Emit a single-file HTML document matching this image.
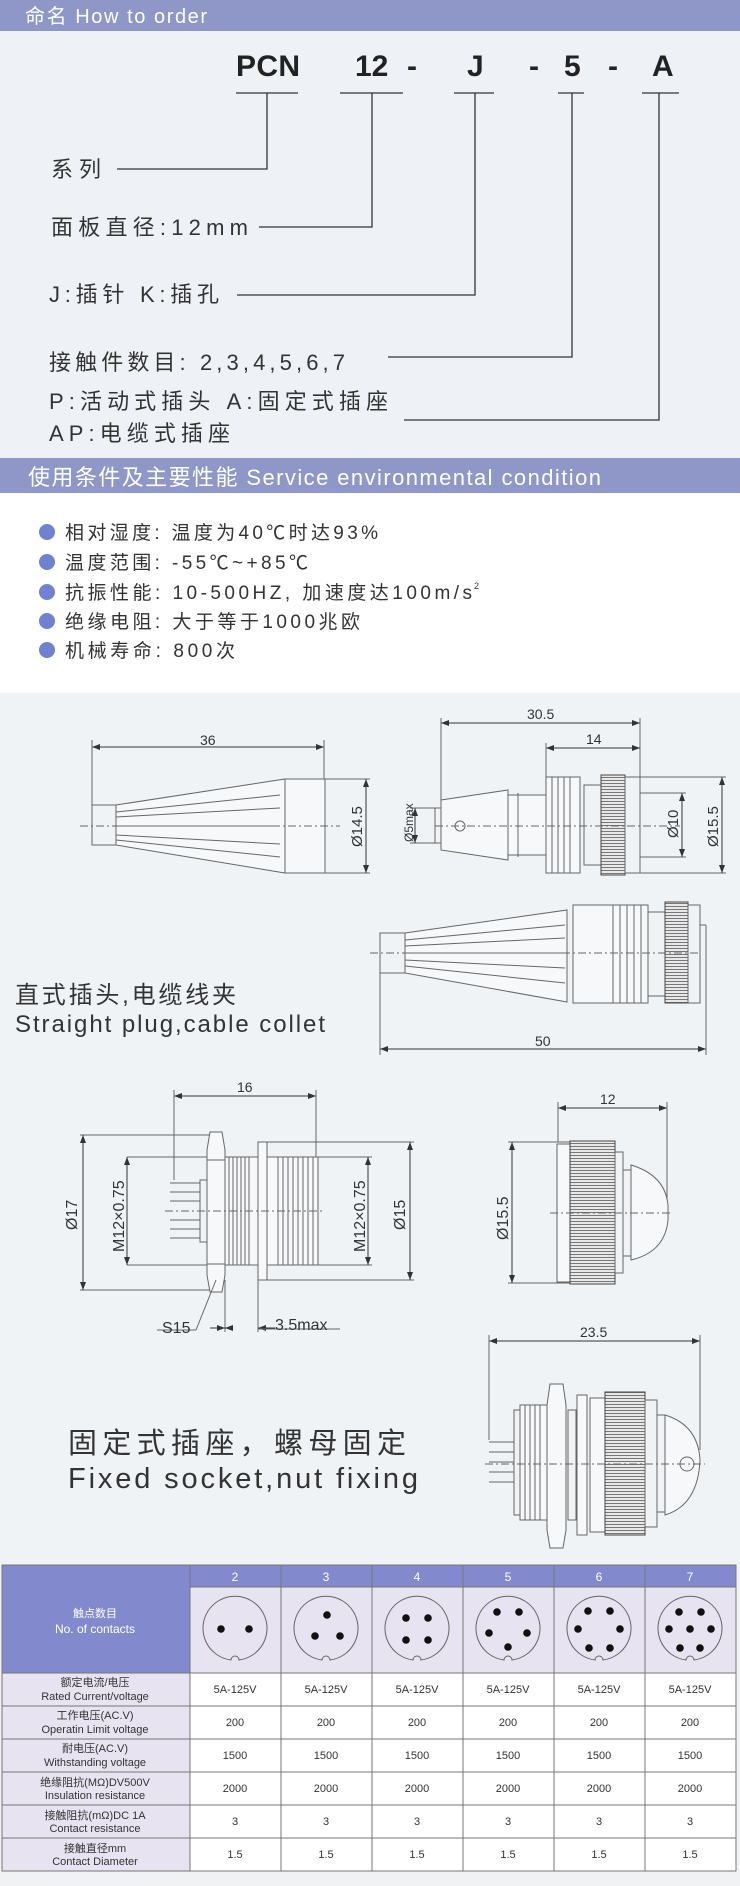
<!DOCTYPE html>
<html><head><meta charset="utf-8"><style>
html,body{margin:0;padding:0;}
body{width:740px;height:1886px;position:relative;overflow:hidden;background:#f0f2f4;font-family:"Liberation Sans","Noto Sans CJK SC",sans-serif;}
svg{position:absolute;left:0;top:0;}
</style></head><body>
<svg width="740" height="1886" viewBox="0 0 740 1886" xmlns="http://www.w3.org/2000/svg" font-family="Liberation Sans, Noto Sans CJK SC, sans-serif">
<defs>
<marker id="a" markerWidth="8" markerHeight="6" refX="8" refY="3" orient="auto-start-reverse" markerUnits="userSpaceOnUse"><path d="M0,0 L8,3 L0,6 z" fill="#333"/></marker>
<pattern id="kn" width="4" height="3" patternUnits="userSpaceOnUse"><rect width="4" height="3" fill="#e8e8e8"/><line x1="0" y1="0.5" x2="4" y2="0.5" stroke="#777" stroke-width="1"/></pattern>
</defs>
<!-- backgrounds -->
<rect x="0" y="0" width="740" height="460" fill="#eef2f6"/>
<rect x="0" y="0" width="740" height="31" fill="#8e97c8"/>
<text x="25" y="23" font-size="20" fill="#fff" textLength="182">命名 How to order</text>
<rect x="0" y="458" width="740" height="35" fill="#8e97c8"/>
<text x="28" y="485" font-size="22" fill="#fff" textLength="573">使用条件及主要性能 Service environmental condition</text>
<rect x="0" y="493" width="740" height="200" fill="#ffffff"/>
<rect x="0" y="693" width="740" height="872" fill="#eff3f6"/>

<!-- order code -->
<g font-size="30" font-weight="bold" fill="#222">
<text x="236" y="76" textLength="64">PCN</text>
<text x="355" y="76">12</text>
<text x="407" y="76">-</text>
<text x="467" y="76">J</text>
<text x="529" y="76">-</text>
<text x="564" y="76">5</text>
<text x="608" y="76">-</text>
<text x="652" y="76">A</text>
</g>
<g stroke="#333" stroke-width="1.3" fill="none">
<line x1="236" y1="93" x2="298" y2="93"/><line x1="340" y1="93" x2="403" y2="93"/>
<line x1="454" y1="93" x2="494" y2="93"/><line x1="558" y1="93" x2="584" y2="93"/><line x1="642" y1="93" x2="679" y2="93"/>
<polyline points="267,93 267,169 117,169"/>
<polyline points="372,93 372,227 259,227"/>
<polyline points="475,93 475,295 237,295"/>
<polyline points="572,93 572,357 388,357"/>
<polyline points="659,93 659,420 404,420"/>
</g>
<g font-size="22" fill="#333">
<text x="51" y="177" textLength="50">系列</text>
<text x="51" y="235" textLength="197">面板直径:12mm</text>
<text x="49" y="302" textLength="170">J:插针 K:插孔</text>
<text x="49" y="370" textLength="296">接触件数目: 2,3,4,5,6,7</text>
<text x="49" y="409" textLength="339">P:活动式插头 A:固定式插座</text>
<text x="49" y="441" textLength="181">AP:电缆式插座</text>
</g>

<!-- bullets -->
<g fill="#6f82d2"><circle cx="47" cy="532" r="8"/><circle cx="47" cy="562" r="8"/><circle cx="47" cy="592" r="8"/><circle cx="47" cy="621" r="8"/><circle cx="47" cy="650" r="8"/></g>
<g font-size="19" fill="#333">
<text x="65" y="539" textLength="313">相对湿度: 温度为40℃时达93%</text>
<text x="65" y="569" textLength="243">温度范围: -55℃~+85℃</text>
<text x="65" y="599" textLength="407">抗振性能: 10-500HZ, 加速度达100m/s</text>
<text x="474" y="589" font-size="9">2</text>
<text x="65" y="628" textLength="295">绝缘电阻: 大于等于1000兆欧</text>
<text x="65" y="657" textLength="170">机械寿命: 800次</text>
</g>

<!-- drawings -->
<g stroke="#666" stroke-width="1" fill="none">
<!-- drawing 1 -->
<line x1="92" y1="747" x2="324" y2="747" stroke="#333" marker-start="url(#a)" marker-end="url(#a)"/>
<line x1="92" y1="740" x2="92" y2="805"/><line x1="324" y1="740" x2="324" y2="779"/>
<rect x="92" y="805" width="24" height="40"/>
<polygon points="116,805 285,779 285,873 116,845" fill="#f7f8fa"/>
<line x1="116" y1="812" x2="280" y2="795"/><line x1="116" y1="817" x2="280" y2="808"/><line x1="116" y1="826" x2="280" y2="826"/><line x1="116" y1="835" x2="280" y2="844"/><line x1="116" y1="840" x2="280" y2="857"/>
<rect x="285" y="779" width="40" height="94" fill="#f7f8fa"/>
<line x1="325" y1="779" x2="370" y2="779"/><line x1="325" y1="873" x2="370" y2="873"/>
<line x1="366" y1="779" x2="366" y2="873" stroke="#333" marker-start="url(#a)" marker-end="url(#a)"/>
<line x1="80" y1="826" x2="340" y2="826" stroke-dasharray="8,3,2,3"/>
<!-- drawing 2 -->
<line x1="441" y1="723" x2="640" y2="723" stroke="#333" marker-start="url(#a)" marker-end="url(#a)"/>
<line x1="441" y1="718" x2="441" y2="800"/><line x1="640" y1="718" x2="640" y2="777"/>
<line x1="546" y1="748" x2="640" y2="748" stroke="#333" marker-start="url(#a)" marker-end="url(#a)"/>
<line x1="546" y1="743" x2="546" y2="777"/>
<rect x="435" y="808" width="6" height="35"/>
<line x1="410" y1="808" x2="435" y2="808"/><line x1="410" y1="843" x2="435" y2="843"/>
<line x1="415" y1="808" x2="415" y2="843" stroke="#333" marker-start="url(#a)" marker-end="url(#a)"/>
<polygon points="441,800 508,790 508,860 441,850" fill="#f7f8fa"/>
<circle cx="460" cy="826" r="5"/>
<rect x="508" y="795" width="38" height="60" fill="#f7f8fa"/>
<line x1="518" y1="793" x2="518" y2="857"/>
<rect x="546" y="777" width="34" height="96" fill="#f7f8fa"/>
<line x1="552" y1="777" x2="552" y2="873"/><line x1="558" y1="777" x2="558" y2="873"/><line x1="564" y1="777" x2="564" y2="873"/><line x1="570" y1="777" x2="570" y2="873"/>
<rect x="584" y="785" width="17" height="80"/>
<rect x="601" y="775" width="24" height="100" fill="url(#kn)" stroke="#444"/>
<rect x="625" y="777" width="15" height="96"/>
<line x1="640" y1="777" x2="726" y2="777"/><line x1="640" y1="873" x2="726" y2="873"/>
<line x1="640" y1="793" x2="686" y2="793"/><line x1="640" y1="857" x2="686" y2="857"/>
<line x1="682" y1="793" x2="682" y2="857" stroke="#333" marker-start="url(#a)" marker-end="url(#a)"/>
<line x1="722" y1="777" x2="722" y2="873" stroke="#333" marker-start="url(#a)" marker-end="url(#a)"/>
<line x1="435" y1="826" x2="680" y2="826" stroke-dasharray="8,3,2,3"/>
<!-- drawing 3 -->
<rect x="380" y="933" width="25" height="40"/>
<polygon points="405,933 567,910 567,1002 405,973" fill="#f7f8fa"/>
<line x1="405" y1="940" x2="565" y2="925"/><line x1="405" y1="946" x2="565" y2="938"/><line x1="405" y1="953" x2="565" y2="953"/><line x1="405" y1="960" x2="565" y2="968"/><line x1="405" y1="966" x2="565" y2="983"/>
<rect x="573" y="905" width="40" height="98" fill="#f7f8fa"/>
<rect x="613" y="905" width="35" height="98" fill="#f7f8fa"/>
<line x1="620" y1="905" x2="620" y2="1003"/><line x1="627" y1="905" x2="627" y2="1003"/><line x1="634" y1="905" x2="634" y2="1003"/><line x1="641" y1="905" x2="641" y2="1003"/>
<rect x="648" y="912" width="17" height="84"/>
<rect x="665" y="902" width="23" height="101" fill="url(#kn)" stroke="#444"/>
<rect x="688" y="905" width="12" height="98"/>
<line x1="700" y1="925" x2="706" y2="925"/><line x1="706" y1="925" x2="706" y2="1055"/>
<line x1="380" y1="973" x2="380" y2="1055"/>
<line x1="380" y1="1049" x2="706" y2="1049" stroke="#333" marker-start="url(#a)" marker-end="url(#a)"/>
<line x1="370" y1="953" x2="700" y2="953" stroke-dasharray="8,3,2,3"/>
<!-- drawing 4 -->
<line x1="174" y1="1096" x2="316" y2="1096" stroke="#333" marker-start="url(#a)" marker-end="url(#a)"/>
<line x1="174" y1="1090" x2="174" y2="1180"/><line x1="316" y1="1090" x2="316" y2="1157"/>
<line x1="80" y1="1135" x2="210" y2="1135"/><line x1="80" y1="1290" x2="210" y2="1290"/>
<line x1="83" y1="1135" x2="83" y2="1290" stroke="#333" marker-start="url(#a)" marker-end="url(#a)"/>
<line x1="127" y1="1157" x2="225" y2="1157"/><line x1="127" y1="1265" x2="225" y2="1265"/>
<line x1="127" y1="1157" x2="127" y2="1265" stroke="#333" marker-start="url(#a)" marker-end="url(#a)"/>
<path d="M170,1183 h30 M170,1192 h30 M170,1201 h30 M170,1220 h30 M170,1229 h30 M170,1238 h30"/>
<rect x="200" y="1180" width="8" height="62"/>
<path d="M210,1132 L222,1132 L225,1150 L225,1275 L222,1292 L210,1292 L207,1275 L207,1150 Z" fill="#f7f8fa"/>
<line x1="207" y1="1160" x2="225" y2="1160"/><line x1="207" y1="1264" x2="225" y2="1264"/>
<rect x="225" y="1157" width="33" height="108" fill="#f7f8fa"/>
<path d="M229,1157v108M233,1157v108M237,1157v108M241,1157v108M245,1157v108M249,1157v108"/>
<rect x="258" y="1142" width="9" height="138" fill="#f7f8fa"/>
<rect x="267" y="1157" width="51" height="108" fill="#f7f8fa"/>
<path d="M278,1157v108M283,1157v108M288,1157v108M293,1157v108M298,1157v108M303,1157v108M308,1157v108M313,1157v108"/>
<line x1="318" y1="1157" x2="372" y2="1157"/><line x1="318" y1="1265" x2="372" y2="1265"/>
<line x1="368" y1="1157" x2="368" y2="1265" stroke="#333" marker-start="url(#a)" marker-end="url(#a)"/>
<line x1="267" y1="1142" x2="414" y2="1142"/><line x1="267" y1="1280" x2="414" y2="1280"/>
<line x1="410" y1="1142" x2="410" y2="1280" stroke="#333" marker-start="url(#a)" marker-end="url(#a)"/>
<line x1="165" y1="1211" x2="325" y2="1211" stroke-dasharray="8,3,2,3"/>
<line x1="225" y1="1280" x2="225" y2="1332"/><line x1="258" y1="1280" x2="258" y2="1332"/>
<line x1="228" y1="1328" x2="225" y2="1328" stroke="#333" marker-end="url(#a)"/><line x1="210" y1="1328" x2="225" y2="1328" stroke="#333" marker-end="url(#a)"/>
<line x1="275" y1="1328" x2="258" y2="1328" stroke="#333" marker-end="url(#a)"/>
<line x1="258" y1="1329" x2="340" y2="1329"/>
<line x1="157" y1="1330" x2="196" y2="1330"/><line x1="196" y1="1330" x2="216" y2="1280"/>
<!-- drawing 5 -->
<line x1="558" y1="1108" x2="667" y2="1108" stroke="#333" marker-start="url(#a)" marker-end="url(#a)"/>
<line x1="558" y1="1102" x2="558" y2="1142"/><line x1="667" y1="1102" x2="667" y2="1200"/>
<line x1="508" y1="1142" x2="570" y2="1142"/><line x1="508" y1="1283" x2="570" y2="1283"/>
<line x1="512" y1="1142" x2="512" y2="1283" stroke="#333" marker-start="url(#a)" marker-end="url(#a)"/>
<rect x="557" y="1144" width="13" height="138" fill="#f7f8fa"/>
<rect x="570" y="1141" width="45" height="143" fill="url(#kn)" stroke="#444"/>
<rect x="615" y="1152" width="8" height="121"/>
<rect x="623" y="1170" width="8" height="86"/>
<path d="M631,1165 Q665,1175 668,1205 L668,1220 Q665,1252 631,1260 Z" fill="#f7f8fa"/>
<line x1="550" y1="1213" x2="672" y2="1213" stroke-dasharray="8,3,2,3"/>
<!-- drawing 6 -->
<line x1="489" y1="1341" x2="700" y2="1341" stroke="#333" marker-start="url(#a)" marker-end="url(#a)"/>
<line x1="489" y1="1335" x2="489" y2="1440"/><line x1="700" y1="1335" x2="700" y2="1450"/>
<path d="M489,1442h25M489,1452h25M489,1462h25M489,1472h25M489,1482h25"/>
<rect x="514" y="1410" width="6" height="105"/>
<rect x="520" y="1405" width="28" height="115" fill="#f7f8fa"/>
<path d="M525,1405v115M530,1405v115M535,1405v115M540,1405v115"/>
<path d="M550,1384 L563,1384 L566,1405 L566,1530 L563,1548 L550,1548 L547,1530 L547,1405 Z" fill="#f7f8fa"/>
<rect x="568" y="1410" width="8" height="110"/>
<rect x="577" y="1395" width="10" height="140" fill="#f7f8fa"/>
<rect x="590" y="1398" width="15" height="134" fill="#f7f8fa"/>
<rect x="605" y="1392" width="40" height="143" fill="url(#kn)" stroke="#444"/>
<rect x="645" y="1400" width="12" height="127"/>
<rect x="657" y="1415" width="8" height="97"/>
<path d="M665,1415 Q698,1425 700,1460 Q698,1505 665,1515 Z" fill="#f7f8fa"/>
<circle cx="687" cy="1464" r="7"/>
<line x1="485" y1="1464" x2="705" y2="1464" stroke-dasharray="8,3,2,3"/>
</g>
<g font-size="14" fill="#333">
<text x="200" y="745">36</text>
<text x="527" y="719">30.5</text>
<text x="586" y="744">14</text>
<text x="535" y="1046">50</text>
<text x="237" y="1092">16</text>
<text x="600" y="1104">12</text>
<text x="580" y="1337">23.5</text>
<text x="162" y="1333" font-size="16">S15</text>
<text x="275" y="1330" font-size="16">3.5max</text>
<text transform="translate(362,847) rotate(-90)" font-size="15">Ø14.5</text>
<text transform="translate(413,842) rotate(-90)" font-size="12">Ø5max</text>
<text transform="translate(678,838) rotate(-90)" font-size="15">Ø10</text>
<text transform="translate(718,847) rotate(-90)" font-size="15">Ø15.5</text>
<text transform="translate(77,1230) rotate(-90)" font-size="16">Ø17</text>
<text transform="translate(124,1252) rotate(-90)" font-size="16">M12×0.75</text>
<text transform="translate(365,1252) rotate(-90)" font-size="16">M12×0.75</text>
<text transform="translate(405,1230) rotate(-90)" font-size="16">Ø15</text>
<text transform="translate(508,1240) rotate(-90)" font-size="16">Ø15.5</text>
</g>
<g fill="#333">
<text x="15" y="1003" font-size="24" textLength="221">直式插头,电缆线夹</text>
<text x="15" y="1032" font-size="24" textLength="310">Straight plug,cable collet</text>
<text x="68" y="1453" font-size="29" textLength="338">固定式插座，螺母固定</text>
<text x="68" y="1488" font-size="29" textLength="350">Fixed socket,nut fixing</text>
</g>

<!-- table -->
<rect x="2" y="1565" width="734" height="306" fill="#ffffff"/>
<rect x="2" y="1565" width="188" height="108" fill="#8289cc"/>
<rect x="190" y="1565" width="546" height="22" fill="#8289cc"/>
<rect x="190" y="1587" width="546" height="86" fill="#e7e3f1"/>
<rect x="2" y="1673" width="188" height="198" fill="#e7e3f1"/>
<g stroke="#777" stroke-width="1" fill="none">
<rect x="2" y="1565" width="734" height="306"/>
<line x1="190" y1="1565" x2="190" y2="1871"/><line x1="281" y1="1565" x2="281" y2="1871"/><line x1="372" y1="1565" x2="372" y2="1871"/><line x1="463" y1="1565" x2="463" y2="1871"/><line x1="554" y1="1565" x2="554" y2="1871"/><line x1="645" y1="1565" x2="645" y2="1871"/>
<line x1="190" y1="1587" x2="736" y2="1587"/>
<line x1="2" y1="1673" x2="736" y2="1673"/><line x1="2" y1="1706" x2="736" y2="1706"/><line x1="2" y1="1739" x2="736" y2="1739"/><line x1="2" y1="1772" x2="736" y2="1772"/><line x1="2" y1="1805" x2="736" y2="1805"/><line x1="2" y1="1838" x2="736" y2="1838"/>
</g>
<g font-size="12" fill="#fff" text-anchor="middle">
<text x="235" y="1581">2</text><text x="326" y="1581">3</text><text x="417" y="1581">4</text><text x="508" y="1581">5</text><text x="599" y="1581">6</text><text x="690" y="1581">7</text>
<text x="95" y="1617" font-size="11">触点数目</text>
<text x="95" y="1633">No. of contacts</text>
</g>
<g stroke="#666" fill="none" stroke-width="1">
<path id="c1" d="M231,1660 A32,32 0 1 1 239,1660 A4,4 0 0 0 231,1660 Z" transform="translate(0,0)"/>
<path d="M231,1660 A32,32 0 1 1 239,1660 A4,4 0 0 0 231,1660 Z" transform="translate(91,0)"/>
<path d="M231,1660 A32,32 0 1 1 239,1660 A4,4 0 0 0 231,1660 Z" transform="translate(182,0)"/>
<path d="M231,1660 A32,32 0 1 1 239,1660 A4,4 0 0 0 231,1660 Z" transform="translate(273,0)"/>
<path d="M231,1660 A32,32 0 1 1 239,1660 A4,4 0 0 0 231,1660 Z" transform="translate(364,0)"/>
<path d="M231,1660 A32,32 0 1 1 239,1660 A4,4 0 0 0 231,1660 Z" transform="translate(455,0)"/>
</g>
<g fill="#111">
<circle cx="221" cy="1629" r="3.8"/><circle cx="249" cy="1629" r="3.8"/>
<circle cx="327" cy="1615" r="3.8"/><circle cx="315" cy="1636" r="3.8"/><circle cx="340" cy="1636" r="3.8"/>
<circle cx="406" cy="1618" r="3.8"/><circle cx="428" cy="1618" r="3.8"/><circle cx="406" cy="1640" r="3.8"/><circle cx="428" cy="1640" r="3.8"/>
<circle cx="497" cy="1612" r="3.8"/><circle cx="519" cy="1612" r="3.8"/><circle cx="489" cy="1633" r="3.8"/><circle cx="527" cy="1633" r="3.8"/><circle cx="508" cy="1647" r="3.8"/>
<circle cx="588" cy="1611" r="3.8"/><circle cx="610" cy="1611" r="3.8"/><circle cx="578" cy="1629" r="3.8"/><circle cx="620" cy="1629" r="3.8"/><circle cx="589" cy="1648" r="3.8"/><circle cx="610" cy="1648" r="3.8"/>
<circle cx="679" cy="1612" r="3.8"/><circle cx="701" cy="1612" r="3.8"/><circle cx="669" cy="1629" r="3.8"/><circle cx="690" cy="1629" r="3.8"/><circle cx="711" cy="1629" r="3.8"/><circle cx="680" cy="1648" r="3.8"/><circle cx="700" cy="1648" r="3.8"/>
</g>
<g font-size="11" fill="#333" text-anchor="middle">
<text x="95" y="1686">额定电流/电压</text><text x="95" y="1700">Rated Current/voltage</text>
<text x="95" y="1719">工作电压(AC.V)</text><text x="95" y="1733">Operatin Limit voltage</text>
<text x="95" y="1752">耐电压(AC.V)</text><text x="95" y="1766">Withstanding voltage</text>
<text x="95" y="1786">绝缘阻抗(MΩ)DV500V</text><text x="95" y="1799">Insulation resistance</text>
<text x="95" y="1819">接触阻抗(mΩ)DC 1A</text><text x="95" y="1832">Contact resistance</text>
<text x="95" y="1852">接触直径mm</text><text x="95" y="1865">Contact Diameter</text>
</g>
<g font-size="11" fill="#333" text-anchor="middle">
<text x="235" y="1693">5A-125V</text><text x="326" y="1693">5A-125V</text><text x="417" y="1693">5A-125V</text><text x="508" y="1693">5A-125V</text><text x="599" y="1693">5A-125V</text><text x="690" y="1693">5A-125V</text>
<text x="235" y="1726">200</text><text x="326" y="1726">200</text><text x="417" y="1726">200</text><text x="508" y="1726">200</text><text x="599" y="1726">200</text><text x="690" y="1726">200</text>
<text x="235" y="1759">1500</text><text x="326" y="1759">1500</text><text x="417" y="1759">1500</text><text x="508" y="1759">1500</text><text x="599" y="1759">1500</text><text x="690" y="1759">1500</text>
<text x="235" y="1792">2000</text><text x="326" y="1792">2000</text><text x="417" y="1792">2000</text><text x="508" y="1792">2000</text><text x="599" y="1792">2000</text><text x="690" y="1792">2000</text>
<text x="235" y="1825">3</text><text x="326" y="1825">3</text><text x="417" y="1825">3</text><text x="508" y="1825">3</text><text x="599" y="1825">3</text><text x="690" y="1825">3</text>
<text x="235" y="1858">1.5</text><text x="326" y="1858">1.5</text><text x="417" y="1858">1.5</text><text x="508" y="1858">1.5</text><text x="599" y="1858">1.5</text><text x="690" y="1858">1.5</text>
</g>
</svg>
</body></html>
